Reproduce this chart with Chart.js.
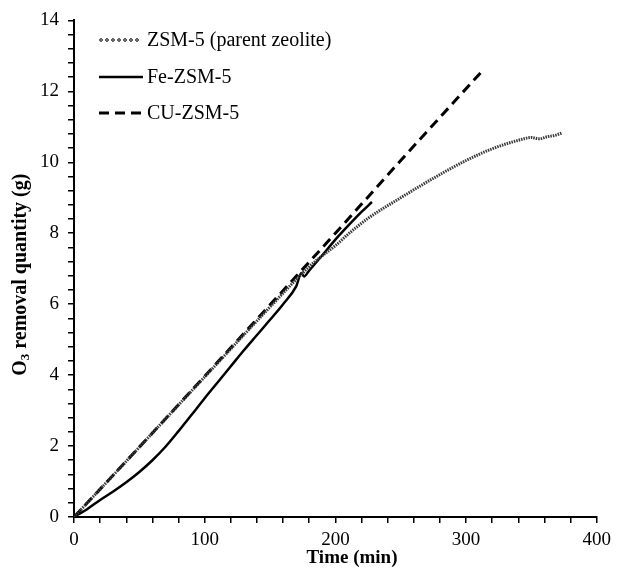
<!DOCTYPE html>
<html>
<head>
<meta charset="utf-8">
<script src="https://cdn.jsdelivr.net/npm/chart.js@4.4.0/dist/chart.umd.min.js"></script>
<style>
  html, body { margin: 0; padding: 0; background: #fff; }
  #wrap { width: 617px; height: 568px; }
</style>
</head>
<body>
<div id="wrap"><canvas id="o3Chart"></canvas></div>
<script>
// series names
var seriesNames = ["ZSM-5 (parent zeolite)", "Fe-ZSM-5", "CU-ZSM-5"];

// ZSM-5 parent zeolite (dotted)
var parentTime = [0, 25, 50, 100, 150, 175, 185, 200, 210, 225, 250, 275, 300, 320, 340, 350, 356, 362, 368, 373];
var parentO3   = [0, 0.98, 1.97, 3.95, 5.92, 6.88, 7.22, 7.65, 7.98, 8.42, 9.0, 9.55, 10.05, 10.38, 10.62, 10.7, 10.66, 10.72, 10.76, 10.82];

// Fe-ZSM-5 (solid)
var feTime = [0, 10, 20, 30, 40, 50, 60, 70, 80, 90, 100, 110, 120, 130, 140, 150, 160, 170, 174, 176, 180, 190, 200, 210, 220, 228];
var feO3   = [0, 0.22, 0.48, 0.72, 0.98, 1.27, 1.6, 1.98, 2.42, 2.88, 3.35, 3.8, 4.25, 4.7, 5.13, 5.56, 6.0, 6.5, 6.88, 6.78, 6.95, 7.38, 7.82, 8.22, 8.6, 8.88];

// CU-ZSM-5 (dashed)
var cuTime = [0, 50, 100, 150, 200, 250, 313];
var cuO3   = [0, 1.97, 3.97, 5.98, 8.0, 10.05, 12.6];

// tick labels
var xTickLabels = [0, 100, 200, 300, 400];
var yTickLabels = [0, 2, 4, 6, 8, 10, 12, 14];
var xMinorStep = 20;
var yMinorStep = 0.4;

function toPoints(xs, ys) {
  var pts = [];
  for (var i = 0; i < xs.length; i++) pts.push({ x: xs[i], y: ys[i] });
  return pts;
}

function minorTicks(labels, step) {
  var lo = labels[0], hi = labels[labels.length - 1];
  var n = Math.round((hi - lo) / step);
  var out = [];
  for (var i = 0; i <= n; i++) out.push({ value: +(lo + i * step).toFixed(6) });
  return out;
}

function isLabel(v, labels) {
  for (var i = 0; i < labels.length; i++) {
    if (Math.abs(v - labels[i]) < 1e-6) return true;
  }
  return false;
}

var serif = "'Liberation Serif', 'Times New Roman', serif";

// legend + axis titles drawn by hand
var decorPlugin = {
  id: 'decor',
  afterDraw: function(chart) {
    var ctx = chart.ctx;
    var area = chart.chartArea;
    ctx.save();
    ctx.fillStyle = '#000';
    ctx.strokeStyle = '#000';

    // legend
    var rows = [40, 77, 113];
    ctx.font = '20px ' + serif;
    ctx.textBaseline = 'middle';
    ctx.textAlign = 'left';
    // dotted sample
    ctx.lineWidth = 1;
    for (var dx = 101; dx <= 142; dx += 6) {
      ctx.beginPath();
      ctx.arc(dx, rows[0], 1.3, 0, Math.PI * 2);
      ctx.stroke();
    }
    // solid sample
    ctx.lineWidth = 2.5;
    ctx.setLineDash([]);
    ctx.beginPath(); ctx.moveTo(99, rows[1]); ctx.lineTo(143, rows[1]); ctx.stroke();
    // dashed sample
    ctx.lineWidth = 3;
    ctx.setLineDash([10, 6]);
    ctx.beginPath(); ctx.moveTo(99, rows[2]); ctx.lineTo(143, rows[2]); ctx.stroke();
    ctx.setLineDash([]);
    for (var i = 0; i < seriesNames.length; i++) {
      ctx.fillText(seriesNames[i], 147, rows[i] + 1);
    }

    // x title
    ctx.font = 'bold 19px ' + serif;
    ctx.textAlign = 'center';
    ctx.fillText('Time (min)', 352, 558);

    // y title with subscript
    var yc = (area.top + area.bottom) / 2 + 6;
    ctx.translate(21, yc);
    ctx.rotate(-Math.PI / 2);
    ctx.textAlign = 'left';
    var big = 'bold 20px ' + serif, small = 'bold 13px ' + serif;
    ctx.font = big;
    var wO = ctx.measureText('O').width;
    var rest = ' removal quantity (g)';
    var wR = ctx.measureText(rest).width;
    ctx.font = small;
    var w3 = ctx.measureText('3').width;
    var x0 = -(wO + w3 + wR) / 2;
    ctx.font = big;
    ctx.fillText('O', x0, 0);
    ctx.font = small;
    ctx.fillText('3', x0 + wO, 5);
    ctx.font = big;
    ctx.fillText(rest, x0 + wO + w3, 0);
    ctx.restore();
  }
};

var ctx = document.getElementById('o3Chart').getContext('2d');
var o3Chart = new Chart(ctx, {
  type: 'line',
  data: {
    datasets: [{
      label: seriesNames[0],
      data: toPoints(parentTime, parentO3),
      borderColor: '#3a3a3a',
      borderWidth: 3,
      borderDash: [1.5, 1],
      pointRadius: 0,
      cubicInterpolationMode: 'monotone'
    }, {
      label: seriesNames[1],
      data: toPoints(feTime, feO3),
      borderColor: '#000',
      borderWidth: 2.5,
      pointRadius: 0,
      cubicInterpolationMode: 'monotone'
    }, {
      label: seriesNames[2],
      data: toPoints(cuTime, cuO3),
      borderColor: '#000',
      borderWidth: 3,
      borderDash: [10, 6],
      pointRadius: 0,
      cubicInterpolationMode: 'monotone'
    }]
  },
  options: {
    responsive: true,
    maintainAspectRatio: false,
    animation: false,
    layout: { padding: { top: 20, right: 19, left: 0, bottom: 0 } },
    plugins: {
      legend: { display: false },
      tooltip: { enabled: false }
    },
    scales: {
      x: {
        type: 'linear',
        min: 0,
        max: 400,
        afterBuildTicks: function(scale) { scale.ticks = minorTicks(xTickLabels, xMinorStep); },
        afterFit: function(scale) { scale.height = 51; },
        ticks: {
          autoSkip: false,
          maxRotation: 0,
          padding: 6,
          color: '#000',
          font: { family: serif, size: 19 },
          callback: function(v) { return isLabel(v, xTickLabels) ? String(Math.round(v)) : ''; }
        },
        grid: { drawOnChartArea: false, drawTicks: true, tickLength: 6, color: '#000', lineWidth: 1.5 },
        border: { display: true, color: '#000', width: 2 }
      },
      y: {
        type: 'linear',
        min: 0,
        max: 14,
        afterBuildTicks: function(scale) { scale.ticks = minorTicks(yTickLabels, yMinorStep); },
        afterFit: function(scale) { scale.width = 74; },
        ticks: {
          autoSkip: false,
          padding: 9,
          color: '#000',
          font: { family: serif, size: 19 },
          callback: function(v) { return isLabel(v, yTickLabels) ? String(Math.round(v)) : ''; }
        },
        grid: { drawOnChartArea: false, drawTicks: true, tickLength: 6, color: '#000', lineWidth: 1.5 },
        border: { display: true, color: '#000', width: 2 }
      }
    }
  },
  plugins: [decorPlugin]
});
</script>
</body>
</html>
